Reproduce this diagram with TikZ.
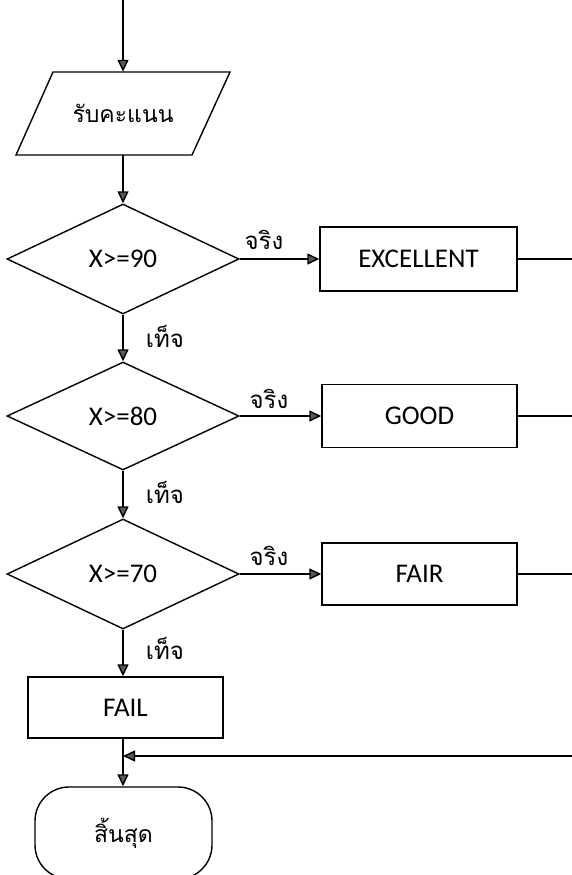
\documentclass[tikz,border=0pt]{standalone}
\usepackage{fontspec}
\setmainfont{Carlito}
\newfontfamily\thai[Script=Thai]{Loma}
\usetikzlibrary{arrows.meta,shapes.geometric}

\tikzset{
  x=1pt, y=-1pt,
  every node/.style={font=\fontsize{27}{32}\selectfont},
  flow/.style={line width=1.4pt, -{Triangle[length=12pt,width=11pt,fill=black!65]}},
  plain/.style={line width=1.4pt},
  box/.style={draw, line width=1.4pt, rectangle, inner sep=0pt},
  decide/.style={draw, line width=1.4pt, diamond, inner sep=0pt, aspect=2.1},
  lbl/.style={font=\thai\fontsize{24}{28}\selectfont, inner sep=0pt},
  thaitext/.style={font=\thai\fontsize{23}{28}\selectfont},
}

\begin{document}
\begin{tikzpicture}
  \useasboundingbox (0,0) rectangle (572,875);
  \clip (0,0) rectangle (572,875);

  % entry point
  \coordinate (entry) at (123,0);

  % input (parallelogram drawn around an invisible node)
  \node[thaitext, inner sep=0pt, minimum width=140pt, minimum height=83pt] (inp) at (123,113.5)
    {รับคะแนน};
  \draw[line width=1.4pt] (53,72) -- (230,72) -- (192,155) -- (16,155) -- cycle;

  % decisions
  \node[decide, minimum width=232pt, minimum height=110pt] (d1) at (123,259) {X>=90};
  \node[decide, minimum width=232pt, minimum height=108pt] (d2) at (123,416) {X>=80};
  \node[decide, minimum width=232pt, minimum height=110pt] (d3) at (123,574) {X>=70};

  % results
  \node[box, minimum width=197pt, minimum height=64pt] (r1) at (418.5,259) {EXCELLENT};
  \node[box, minimum width=195pt, minimum height=63pt] (r2) at (419.5,416) {GOOD};
  \node[box, minimum width=195pt, minimum height=62pt] (r3) at (419.5,574) {FAIR};
  \node[box, minimum width=195pt, minimum height=61pt] (fail) at (125.5,707.5) {FAIL};

  % terminator
  \node[thaitext, draw, line width=1.4pt, rounded corners=34pt, inner sep=0pt,
        minimum width=177pt, minimum height=92pt] (term) at (123.5,833)
    {สิ้นสุด};

  % right-hand return lines
  \coordinate (o1) at (580,259);
  \coordinate (o2) at (580,416);
  \coordinate (o3) at (580,574);
  \coordinate (back) at (580,756);
  \coordinate (merge) at (123,756);

  % main flow
  \draw[flow] (entry) -- (inp.north -| entry);
  \draw[flow] (inp.south -| d1.north) -- (d1.north);
  \draw[flow] (d1.south) -- (d2.north);
  \draw[flow] (d2.south) -- (d3.north);
  \draw[flow] (d3.south) -- (fail.north -| d3.south);
  \draw[flow] (fail.south -| merge) -- (term.north -| merge);

  % true branches
  \draw[flow] (d1.east) -- (r1.west);
  \draw[flow] (d2.east) -- (r2.west);
  \draw[flow] (d3.east) -- (r3.west);

  \draw[plain] (r1.east) -- (o1);
  \draw[plain] (r2.east) -- (o2);
  \draw[plain] (r3.east) -- (o3);
  \draw[flow] (back) -- (merge);

  % branch labels
  \node[lbl] at (264,240) {จริง};
  \node[lbl] at (269,399) {จริง};
  \node[lbl] at (269,556) {จริง};
  \node[lbl] at (165,336) {เท็จ};
  \node[lbl] at (165,492) {เท็จ};
  \node[lbl] at (165,648) {เท็จ};
\end{tikzpicture}
\end{document}
